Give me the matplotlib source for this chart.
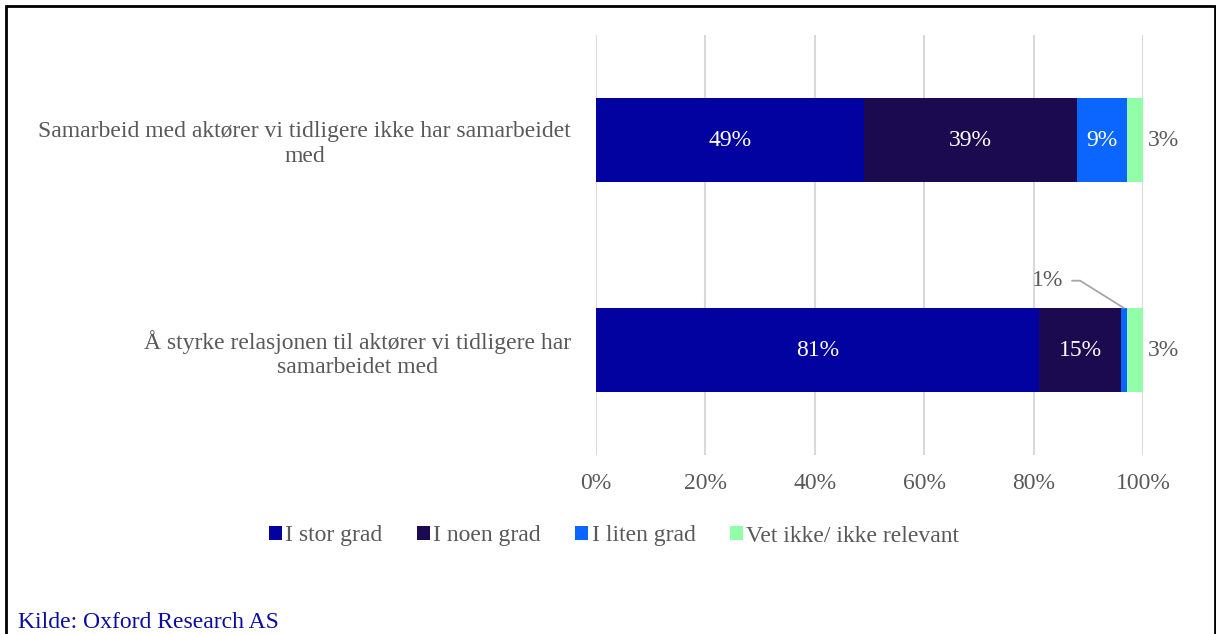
import matplotlib.pyplot as plt
from matplotlib.patches import Rectangle

categories = [
    "Samarbeid med aktører vi tidligere ikke har samarbeidet\nmed",
    "Å styrke relasjonen til aktører vi tidligere har\nsamarbeidet med",
]
series = ["I stor grad", "I noen grad", "I liten grad", "Vet ikke/ ikke relevant"]
stor = [49, 81]
noen = [39, 15]
liten = [9, 1]
vet_ikke = [3, 3]
xticks = [0, 20, 40, 60, 80, 100]

colors = ["#0202A0", "#1B0A50", "#0A66FF", "#92FFA8"]
grey = "#595959"
fs = 17

plt.rcParams["font.family"] = ["Liberation Serif", "DejaVu Serif"]

fig = plt.figure(figsize=(12.16, 6.34), dpi=100)
ax = fig.add_axes([596 / 1216, 1 - 455 / 634, 547 / 1216, 420 / 634])

ypos = [1, 0]  # first category on top
left = [0, 0]
for name, vals, col in zip(series, [stor, noen, liten, vet_ikke], colors):
    ax.barh(ypos, vals, left=left, height=0.4, color=col, label=name, zorder=3)
    for y, l, v in zip(ypos, left, vals):
        txt = f"{v}%"
        if name == series[3]:
            ax.text(l + v + 0.8, y, txt, va="center", ha="left", fontsize=fs, color=grey)
        elif v >= 5:
            ax.text(l + v / 2, y, txt, va="center", ha="center", fontsize=fs, color="white")
        else:
            # small segment: label above with leader line
            top = y + 0.2
            ax.annotate(txt, xy=(l + v / 2, top), xytext=(l + v / 2 - 11, top + 0.13),
                        fontsize=fs, color=grey, va="center", ha="right",
                        arrowprops=dict(arrowstyle="-", color="#A6A6A6", lw=1.3,
                                        shrinkA=4, shrinkB=0,
                                        connectionstyle="angle,angleA=0,angleB=-32,rad=0"))
    left = [a + b for a, b in zip(left, vals)]

ax.set_xlim(0, 100)
ax.set_ylim(-0.5, 1.5)
ax.set_xticks(xticks)
ax.set_xticklabels([f"{t}%" for t in xticks], fontsize=fs, color=grey)
ax.set_yticks(ypos)
ax.set_yticklabels(categories, fontsize=fs, color=grey, multialignment="center",
                   linespacing=1.2)
ax.tick_params(axis="both", length=0)
ax.tick_params(axis="x", pad=13)
ax.tick_params(axis="y", pad=18)
ax.grid(axis="x", color="#D9D9D9", lw=1.5, zorder=0)
for s in ax.spines.values():
    s.set_visible(False)

leg = fig.legend(loc="center", bbox_to_anchor=(614 / 1216, 1 - 536 / 634), ncol=4,
                 frameon=False, fontsize=fs, handlelength=0.55, handleheight=0.55,
                 handletextpad=0.15, columnspacing=1.45)
for t in leg.get_texts():
    t.set_color(grey)

fig.text(18 / 1216, 1 - 623 / 634, "Kilde: Oxford Research AS", fontsize=17,
         color="#0C0CA0", va="center", ha="left")

fig.patches.append(Rectangle((6 / 1216, -0.05), 1209 / 1216, 1.05 - 6 / 634,
                             transform=fig.transFigure, fill=False, lw=2,
                             edgecolor="black"))

fig.savefig("out.png", dpi=100)
